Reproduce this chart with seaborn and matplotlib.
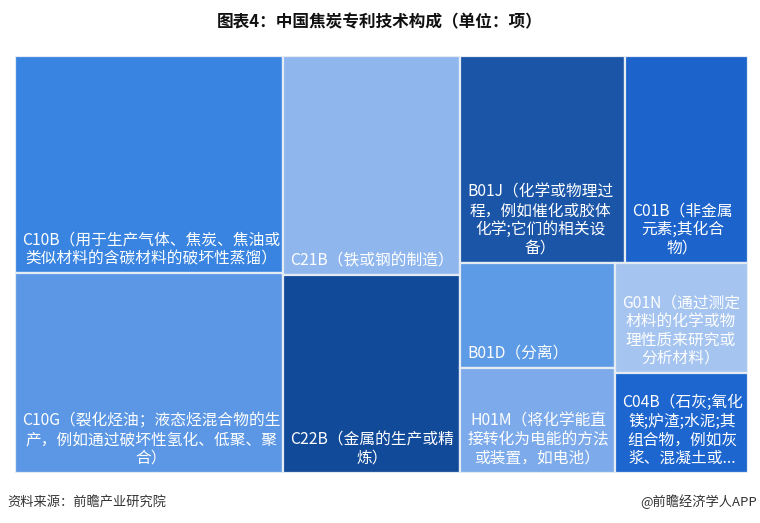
import matplotlib
matplotlib.use('Agg')
import matplotlib.pyplot as plt
import seaborn as sns
from matplotlib.patches import Rectangle

sns.set_theme(style='white')
plt.rcParams['font.family'] = ['Noto Sans CJK SC', 'DejaVu Sans']

# Data (patent counts estimated from tile areas)
codes = ['C10B', 'C10G', 'C21B', 'C22B', 'B01J', 'C01B', 'B01D', 'H01M', 'G01N', 'C04B']
values = [1758, 1620, 1170, 1057, 1030, 766, 494, 490, 443, 402]
labels = [
    'C10B（用于生产气体、焦炭、焦油或\n类似材料的含碳材料的破坏性蒸馏）',
    'C10G（裂化烃油；液态烃混合物的生\n产，例如通过破坏性氢化、低聚、聚\n合）',
    'C21B（铁或钢的制造）',
    'C22B（金属的生产或精\n炼）',
    'B01J（化学或物理过\n程，例如催化或胶体\n化学;它们的相关设\n备）',
    'C01B（非金属\n元素;其化合\n物）',
    'B01D（分离）',
    'H01M（将化学能直\n接转化为电能的方法\n或装置，如电池）',
    'G01N（通过测定\n材料的化学或物\n理性质来研究或\n分析材料）',
    'C04B（石灰;氧化\n镁;炉渣;水泥;其\n组合物，例如灰\n浆、混凝土或...',
]
colors = ['#3884e0', '#5b97e4', '#8fb7ee', '#124a9a', '#1a55a8',
          '#1c64cc', '#5d9be6', '#7caaea', '#a5c4ef', '#1d66cf']


# squarified treemap layout
def layoutrow(sizes, x, y, dx, dy):
    width = sum(sizes) / dy
    rects = []
    for s in sizes:
        rects.append((x, y, width, s / width))
        y += s / width
    return rects


def layoutcol(sizes, x, y, dx, dy):
    height = sum(sizes) / dx
    rects = []
    for s in sizes:
        rects.append((x, y, s / height, height))
        x += s / height
    return rects


def layout(sizes, x, y, dx, dy):
    return layoutrow(sizes, x, y, dx, dy) if dx >= dy else layoutcol(sizes, x, y, dx, dy)


def leftover(sizes, x, y, dx, dy):
    covered = sum(sizes)
    if dx >= dy:
        w = covered / dy
        return x + w, y, dx - w, dy
    h = covered / dx
    return x, y + h, dx, dy - h


def worst(sizes, x, y, dx, dy):
    return max(max(r[2] / r[3], r[3] / r[2]) for r in layout(sizes, x, y, dx, dy))


def squarify(sizes, x, y, dx, dy):
    if not sizes:
        return []
    if len(sizes) == 1:
        return layout(sizes, x, y, dx, dy)
    i = 1
    while i < len(sizes) and worst(sizes[:i], x, y, dx, dy) >= worst(sizes[:i + 1], x, y, dx, dy):
        i += 1
    cur, rest = sizes[:i], sizes[i:]
    lx, ly, ldx, ldy = leftover(cur, x, y, dx, dy)
    return layout(cur, x, y, dx, dy) + squarify(rest, lx, ly, ldx, ldy)


W, H = 733, 417
total = sum(values)
sizes = [v * W * H / total for v in values]
rects = squarify(sizes, 0, 0, W, H)

fig = plt.figure(figsize=(7.6, 5.23), dpi=100)
ax = fig.add_axes([15 / 760, 50 / 523, W / 760, H / 523])
ax.set_xlim(0, W)
ax.set_ylim(H, 0)
ax.axis('off')

for (x, y, w, h), lab, c in zip(rects, labels, colors):
    ax.add_patch(Rectangle((x, y), w, h, facecolor=c, edgecolor='#e4ebf3', linewidth=1.6))
    ax.text(x + 7, y + h - 6, lab, ha='left', va='bottom', multialignment='center',
            color='white', fontsize=11.3, linespacing=1.12)

fig.text(0.5, 1 - 22 / 523, '图表4：中国焦炭专利技术构成（单位：项）', ha='center', va='center',
         fontsize=12, fontweight='bold', color='#111111')
fig.text(7 / 760, 1 - 502 / 523, '资料来源：前瞻产业研究院', ha='left', va='center',
         fontsize=9.5, color='#333333')
fig.text(757 / 760, 1 - 502 / 523, '@前瞻经济学人APP', ha='right', va='center',
         fontsize=9.5, color='#333333')

fig.savefig('out.png', dpi=100, facecolor='white')
